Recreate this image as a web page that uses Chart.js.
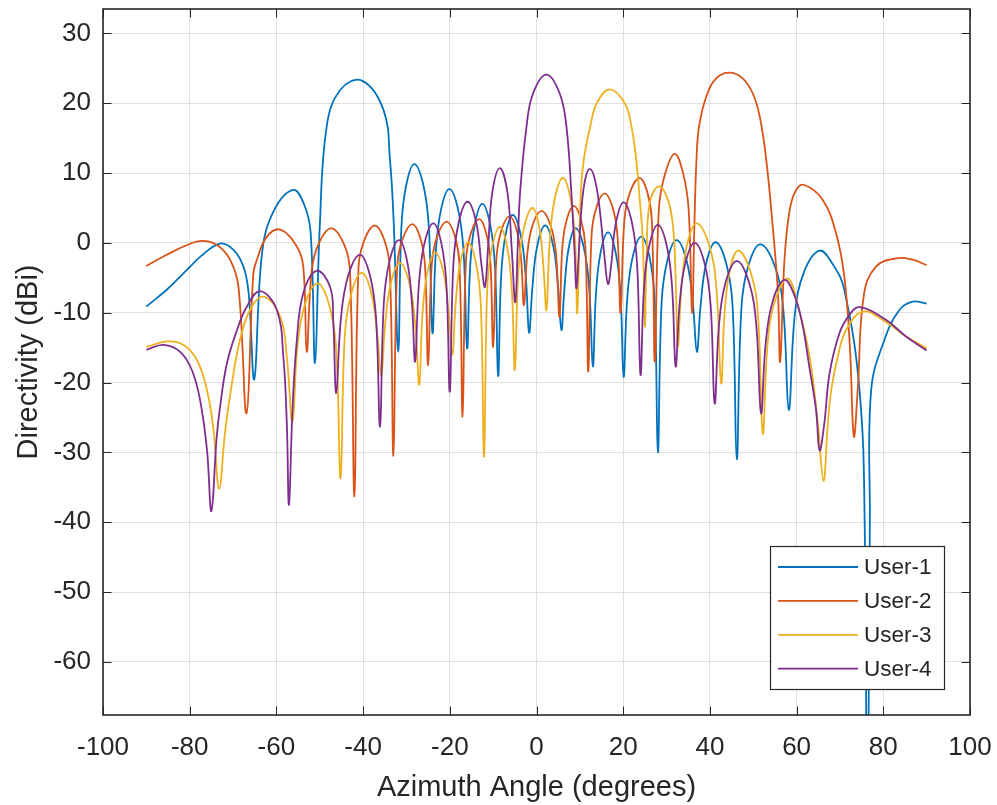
<!DOCTYPE html>
<html>
<head>
<meta charset="utf-8">
<title>Directivity per user</title>
<script src="https://cdn.jsdelivr.net/npm/chart.js@4.4.1/dist/chart.umd.min.js"></script>
<style>
  html, body { margin: 0; padding: 0; background: #ffffff; }
  #wrap { width: 997px; height: 805px; }
  canvas { display: block; }
</style>
</head>
<body>
<div id="wrap"><canvas id="chart" width="997" height="805"></canvas></div>
<script>
// Beam patterns of the four users: [azimuth (deg), directivity (dBi)]
const seriesNames = ['User-1', 'User-2', 'User-3', 'User-4'];

const user1Points = [
  [-90,-9.1],[-87.6,-7.9],[-85.3,-6.7],[-79.9,-3.4],[-77.6,-2.0],[-73,-0.1],[-69.9,-1.0],[-67.6,-3.4],[-66.4,-7.2],[-65.1,-19.5],
  [-63.3,-1.4],[-60.6,4.6],[-56.1,7.6],[-53.6,5.5],[-52.1,1.5],[-51.1,-17.2],
  [-50.0,2.3],[-48.4,16.7],[-45.3,21.9],[-40.3,23.25],[-35.3,19.05],[-33.8,11.9],[-32.9,2.3],[-31.9,-15.6],
  [-31.16,2.3],[-30.05,8.3],[-28.2,11.3],[-26.1,8.3],[-24.84,2.3],[-24.0,-12.9],
  [-23.22,-1.3],[-22.05,4.7],[-20.1,7.7],[-18.05,4.7],[-16.82,-1.3],[-16.0,-15.1],
  [-15.3,-3.4],[-14.25,2.6],[-12.5,5.6],[-10.68,2.6],[-9.58,-3.4],[-8.85,-19.05],
  [-8.18,-5.0],[-7.18,1.0],[-5.5,4.0],[-3.6,1.0],[-2.46,-5.0],[-1.7,-12.85],
  [-0.96,-6.5],[0.15,-0.5],[2.0,2.5],[3.88,-0.5],[5.0,-6.5],[5.75,-12.5],
  [6.4,-6.9],[7.38,-0.9],[9.0,2.1],[11.0,-0.9],[12.2,-6.9],[13.0,-17.7],
  [13.7,-7.5],[14.75,-1.5],[16.5,1.5],[18.3,-1.5],[19.38,-7.5],[20.1,-19.2],
  [20.92,-8.1],[22.15,-2.1],[24.2,0.9],[26.1,-2.1],[27.24,-8.1],[28.0,-30.0],
  [28.86,-8.6],[30.15,-2.6],[32.3,0.4],[34.65,-2.6],[36.06,-8.6],[37.0,-15.6],
  [37.86,-8.9],[39.15,-2.9],[41.3,0.1],[43.75,-2.9],[45.22,-8.9],[46.2,-31.0],
  [47.28,-9.2],[48.9,-3.2],[51.6,-0.2],[54.9,-3.2],[56.88,-9.2],[58.2,-23.9],
  [59.62,-10.1],[61.75,-4.1],[65.3,-1.1],[68.3,-3.0],[71.0,-6.7],[74.5,-21],[75.7,-40],[76.3,-95],[76.9,-40],[77.2,-21],
  [80.25,-13.9],[83.7,-9.6],[86.8,-8.4],[90,-8.7]
];

const user2Points = [
  [-90,-3.3],[-85.3,-1.7],[-80.6,-0.3],[-77.2,0.3],[-73.7,-0.3],[-70.7,-2.4],[-68.75,-6.3],[-66.9,-24.4],
  [-65.34,-4.5],[-64.5,-2.4],[-62.2,0.9],[-59.1,1.9],[-55.3,-0.5],[-53.8,-3.4],[-53.0,-15.6],
  [-51.84,-3.9],[-50.1,0.1],[-47.2,2.1],[-44.2,-0.5],[-43.0,-4.3],[-42.0,-36.3],
  [-41.06,-3.5],[-39.65,0.5],[-37.3,2.5],[-35.15,0.5],[-33.86,-3.5],[-33.0,-30.5],
  [-32.12,-3.3],[-30.8,0.7],[-28.6,2.7],[-26.8,0.7],[-25.72,-3.3],[-25.0,-17.5],
  [-24.14,-2.95],[-22.85,1.05],[-20.7,3.05],[-18.88,1.05],[-17.78,-2.95],[-17.05,-24.9],
  [-16.28,-2.6],[-15.13,1.4],[-13.2,3.4],[-11.6,1.4],[-10.64,-2.6],[-10.0,-14.9],
  [-9.24,-2.2],[-8.1,1.8],[-6.2,3.8],[-4.55,1.8],[-3.56,-2.2],[-2.9,-8.9],
  [-2.09,-1.4],[-0.88,2.6],[1.15,4.6],[3.2,2.6],[4.47,-1.4],[5.3,-10.6],
  [5.96,-0.6],[6.95,3.3],[8.6,5.3],[10.28,3.3],[11.28,-0.6],[11.95,-18.4],
  [12.7,1.1],[13.83,5.1],[15.7,7.1],[17.55,5.1],[18.66,1.1],[19.4,-10],
  [20.28,3.3],[21.6,7.3],[23.8,9.3],[25.55,7.3],[26.6,3.3],[27.3,-17.0],
  [28.22,4.75],[29.6,9.75],[31.9,12.75],[33.9,9.75],[35.1,4.75],[35.9,-10],
  [36.4,2],[36.9,11.9],[37.5,16.7],[39.2,21.0],[41.5,23.6],[44.5,24.4],[47.5,23.6],[49.9,21.4],[51.5,18.1],[53.0,11.9],[54.5,2.3],[55.7,-7.2],[56.2,-17.0],
  [57.2,-2.4],[58.4,4.7],[59.9,7.6],[61.8,8.3],[66.0,6.2],[69.1,1.4],[71.0,-4.8],[72.3,-15],[73.2,-27.7],
  [74.1,-21],[75.5,-7.5],[78.3,-3.4],[83,-2.2],[86.8,-2.4],[90,-3.2]
];

const user3Points = [
  [-90,-14.9],[-85.3,-14.1],[-81.4,-14.6],[-78.3,-16.8],[-76.0,-21.1],[-74.5,-26.8],[-73.2,-35.2],
  [-71.8,-26.8],[-69.9,-18.7],[-68.4,-13.9],[-66.1,-9.6],[-63.0,-7.7],[-59.1,-10.6],[-57.6,-16.3],[-56.3,-25.6],
  [-55.14,-14.8],[-53.4,-8.8],[-50.5,-5.8],[-47.85,-8.8],[-46.26,-14.8],[-45.2,-33.7],
  [-44.22,-13.3],[-42.75,-7.3],[-40.3,-4.3],[-38.05,-7.3],[-36.7,-13.3],[-35.8,-19],
  [-34.94,-11.9],[-33.65,-5.9],[-31.5,-2.9],[-29.28,-5.9],[-27.94,-11.9],[-27.05,-20.3],
  [-26.32,-10.4],[-25.23,-4.4],[-23.4,-1.4],[-21.4,-4.4],[-20.2,-10.4],[-19.4,-16],
  [-18.68,-8.95],[-17.6,-2.95],[-15.8,0.05],[-13.95,-2.95],[-12.84,-8.95],[-12.1,-30.6],
  [-11.37,-6.7],[-10.28,-0.7],[-8.45,2.3],[-6.73,-0.7],[-5.69,-6.7],[-5.0,-18.2],
  [-4.18,-4.0],[-2.95,2.0],[-0.9,5.0],[0.7,2.0],[1.66,-4.0],[2.3,-9.6],
  [3.06,0.3],[4.2,6.3],[6.1,9.3],[7.85,6.3],[8.9,0.3],[9.4,-10],
  [10.2,7.1],[10.9,11.9],[12.4,16.7],[13.9,20.0],[16.9,22.0],[20.35,20.0],[21.9,16.7],[23.0,11.9],[23.7,7.1],[24.55,0],[25.0,-12],
  [25.4,-2],[26.1,5.7],[28.2,8.1],[30.3,6.2],[31.5,2.3],[32.1,-5],[32.6,-14.9],
  [33.46,-6.2],[34.75,-0.2],[36.9,2.8],[39.75,-0.2],[41.46,-6.2],[42.6,-20.1],
  [43.38,-10.1],[44.55,-4.1],[46.5,-1.1],[49.35,-4.1],[51.06,-10.1],[52.2,-27.3],
  [53.36,-14.1],[55.1,-8.1],[58.0,-5.1],[60.5,-9.5],[63.0,-16.3],[64.9,-25.8],[66.2,-34.1],
  [67.2,-26],[68.0,-21],[69.5,-16.3],[71.4,-12.5],[75.3,-9.85],[80.6,-11.3],[85.25,-13.4],[90,-15.1]
];

const user4Points = [
  [-90,-15.3],[-86.0,-14.6],[-82.2,-15.6],[-79.5,-18.2],[-77.6,-22.5],[-76.0,-29.7],[-75.0,-38.4],
  [-73.8,-28],[-73.0,-23.5],[-71.4,-17.2],[-69.1,-12.5],[-66.8,-9.1],[-63.75,-6.9],[-59.9,-9.6],[-58.4,-16.3],[-57.6,-25.8],[-57.1,-37.5],
  [-56.3,-24],[-55.3,-14],[-53.8,-7.2],[-50.7,-4.0],[-47.6,-6.3],[-46.9,-11],[-46.2,-21.5],
  [-45.1,-10.7],[-43.45,-4.7],[-40.7,-1.7],[-38.4,-4.7],[-37.02,-10.7],[-36.1,-26.3],
  [-35.22,-8.6],[-33.9,-2.6],[-31.7,0.4],[-29.85,-2.6],[-28.74,-8.6],[-28.0,-17.0],
  [-27.16,-6.2],[-25.9,-0.2],[-23.8,2.8],[-21.9,-0.2],[-20.76,-6.2],[-20.0,-21.3],
  [-19.18,-3.1],[-17.95,2.9],[-15.9,5.9],[-13.9,2.9],[-12.7,-3.1],[-11.9,-6.3],
  [-11.1,0],[-10.2,7.2],[-8.45,10.7],[-6.7,7.2],[-5.7,-1],[-4.9,-8.5],
  [-4.3,0],[-3.8,7.1],[-2.3,16.7],[-0.8,21.4],[2.3,24.1],[5.35,21.4],[6.9,16.7],[8.05,7.1],[8.8,-1.5],[9.2,-6.5],
  [9.8,-1],[10.35,4.7],[11.2,9],[12.3,10.6],[13.5,9],[14.6,4.7],[15.75,-2.4],[16.5,-5.9],
  [17.22,-3.2],[18.3,2.8],[20.1,5.8],[22.05,2.8],[23.22,-3.2],[24.0,-18.9],
  [24.8,-6.4],[26.0,-0.4],[28.0,2.6],[30.05,-0.4],[31.28,-6.4],[32.1,-17.7],
  [32.98,-9],[34.3,-3],[36.5,0.0],[38.8,-3],[40.18,-9],[41.1,-23.0],
  [42.12,-11.6],[43.65,-5.6],[46.2,-2.6],[49.0,-5.6],[50.68,-11.6],[51.8,-24.4],
  [52.88,-14.3],[54.5,-8.3],[57.2,-5.3],[59.5,-7.5],[61.3,-11.5],[63.0,-18],[64.5,-24],[65.3,-29.7],
  [66.4,-25.8],[67.6,-18.7],[69.9,-12.9],[72.2,-10.3],[74.5,-9.2],[80.6,-11.0],[85.25,-13.4],[90,-15.4]
];

// Axis ticks and limits
const xTicks = [-100, -80, -60, -40, -20, 0, 20, 40, 60, 80, 100];
const yTicks = [-60, -50, -40, -30, -20, -10, 0, 10, 20, 30];
const xLimits = [-100, 100];
const yLimits = [-67.6, 33.5];

// Line colours (one per user)
const lineColors = ['#0072BD', '#D95319', '#EDB120', '#7E2F8E'];
const inkColor = '#262626';
const fontFamily = '"Liberation Sans", Arial, Helvetica, sans-serif';

const allPoints = [user1Points, user2Points, user3Points, user4Points];

const datasets = allPoints.map((pts, i) => ({
  label: seriesNames[i],
  data: pts.map(([x, y]) => ({ x, y })),
  borderColor: lineColors[i],
  backgroundColor: lineColors[i],
  borderWidth: 1.8,
  pointRadius: 0,
  pointHoverRadius: 0,
  tension: 0.4,
  fill: false,
  order: allPoints.length - i
}));

// Box around the axes with inward tick marks on all four sides
const axesBox = {
  id: 'axesBox',
  afterDatasetsDraw(chart) {
    const { ctx, chartArea: a, scales: { x, y } } = chart;
    const tick = 8.5;
    ctx.save();
    ctx.strokeStyle = inkColor;
    ctx.lineWidth = 1;
    ctx.beginPath();
    x.ticks.forEach(t => {
      const px = Math.round(x.getPixelForValue(t.value)) + 0.5;
      ctx.moveTo(px, a.bottom); ctx.lineTo(px, a.bottom - tick);
      ctx.moveTo(px, a.top); ctx.lineTo(px, a.top + tick);
    });
    y.ticks.forEach(t => {
      const py = Math.round(y.getPixelForValue(t.value)) + 0.5;
      ctx.moveTo(a.left, py); ctx.lineTo(a.left + tick, py);
      ctx.moveTo(a.right, py); ctx.lineTo(a.right - tick, py);
    });
    ctx.stroke();
    ctx.lineWidth = 1.6;
    ctx.strokeRect(a.left, a.top, a.right - a.left, a.bottom - a.top);
    ctx.restore();
  }
};

// Boxed legend in the lower-right corner of the axes
const cornerLegend = {
  id: 'cornerLegend',
  afterDraw(chart) {
    const { ctx, chartArea: a } = chart;
    const w = 174, h = 143;
    const left = a.right - 26 - w;
    const top = a.bottom - 26 - h;
    ctx.save();
    ctx.fillStyle = '#ffffff';
    ctx.fillRect(left, top, w, h);
    ctx.strokeStyle = inkColor;
    ctx.lineWidth = 1.2;
    ctx.strokeRect(left + 0.5, top + 0.5, w, h);
    ctx.font = '22.5px ' + fontFamily;
    ctx.textBaseline = 'middle';
    ctx.textAlign = 'left';
    chart.data.datasets.forEach((ds, i) => {
      const yy = top + 21 + i * 33.9;
      ctx.strokeStyle = ds.borderColor;
      ctx.lineWidth = 1.8;
      ctx.beginPath();
      ctx.moveTo(left + 8, yy);
      ctx.lineTo(left + 88, yy);
      ctx.stroke();
      ctx.fillStyle = inkColor;
      ctx.fillText(ds.label, left + 94, yy + 1);
    });
    ctx.restore();
  }
};

new Chart(document.getElementById('chart').getContext('2d'), {
  type: 'line',
  data: { datasets },
  options: {
    responsive: false,
    animation: false,
    devicePixelRatio: 1,
    events: [],
    layout: { padding: { left: 0, right: 27, top: 9, bottom: 0 } },
    plugins: { legend: { display: false }, tooltip: { enabled: false } },
    scales: {
      x: {
        type: 'linear',
        min: xLimits[0],
        max: xLimits[1],
        afterBuildTicks: s => { s.ticks = xTicks.map(v => ({ value: v })); },
        afterFit: s => { s.height = 90; s.paddingLeft = 0; s.paddingRight = 0; },
        border: { display: false },
        grid: { color: '#e0e0e0', lineWidth: 1, drawTicks: false },
        ticks: {
          color: inkColor, padding: 17, maxRotation: 0, autoSkip: false,
          font: { family: fontFamily, size: 26 }
        },
        title: {
          display: true, text: 'Azimuth Angle (degrees)', color: inkColor,
          font: { family: fontFamily, size: 29 }, padding: { top: 0, bottom: 0 }
        }
      },
      y: {
        type: 'linear',
        min: yLimits[0],
        max: yLimits[1],
        afterBuildTicks: s => { s.ticks = yTicks.map(v => ({ value: v })); },
        afterFit: s => { s.width = 103; s.paddingTop = 0; s.paddingBottom = 0; },
        border: { display: false },
        grid: { color: '#e0e0e0', lineWidth: 1, drawTicks: false },
        ticks: {
          color: inkColor, padding: 12, autoSkip: false,
          font: { family: fontFamily, size: 26 }
        },
        title: {
          display: true, text: 'Directivity (dBi)', color: inkColor,
          font: { family: fontFamily, size: 29 }, padding: { top: 12, bottom: 0 }
        }
      }
    }
  },
  plugins: [axesBox, cornerLegend]
});
</script>
</body>
</html>
